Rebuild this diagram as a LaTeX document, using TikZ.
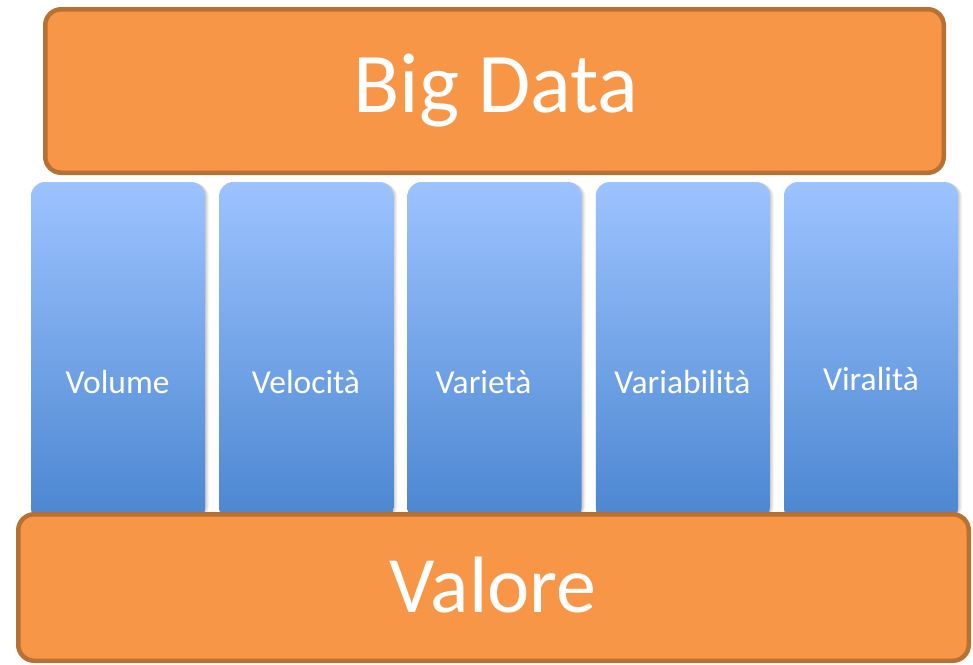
\documentclass[tikz,border=0pt]{standalone}
\usepackage{fontspec}
\setmainfont{Carlito}
\definecolor{bandfill}{RGB}{247,150,70}
\definecolor{bandline}{RGB}{183,113,50}
\definecolor{pilltop}{RGB}{157,195,255}
\definecolor{pillbot}{RGB}{74,134,208}
\tikzset{
  band/.style={fill=bandfill, draw=bandline, line width=4.5pt, rounded corners=16pt,
    inner sep=0pt, outer sep=0pt, anchor=north west},
  pillar/.style={top color=pilltop, bottom color=pillbot, rounded corners=14pt,
    inner sep=0pt, outer sep=0pt, anchor=north west, minimum width=174pt, minimum height=340pt},
  pillshadow/.style={fill=black, opacity=0.045, rounded corners=14pt},
  bandtext/.style={text=white, anchor=base, inner sep=0pt},
  pillartext/.style={text=white, anchor=base, inner sep=0pt, font=\fontsize{33.5}{33.5}\selectfont},
}
\begin{document}
\begin{tikzpicture}[x=1pt, y=-1pt]
  \fill[white] (0,0) rectangle (973,664);
  \useasboundingbox (0,0) rectangle (973,664);

  % the five pillars, with a soft shadow on their sides;
  % each entry: left edge / name / label / label x / label baseline
  \foreach \x/\n/\txt/\tx/\base in {31/1/Volume/117.5/393, 219.25/2/Velocità/306/393,
                                     407.5/3/Varietà/483.5/393, 595.75/4/Variabilità/682.5/393,
                                     784/5/Viralità/871/390} {
    \foreach \s in {0.8,1.6,2.4,3.2,4.0}
      \fill[pillshadow] (\x+\s-1,182+\s*0.3) rectangle (\x+174+\s,520);
    \node[pillar] (p\n) at (\x,182) {};
    \node[pillartext] (t\n) at (\tx,\base) {\txt};
  }

  % top band
  \node[band, minimum width=898.5pt, minimum height=163.5pt] (bigdata) at (45.25,9.25) {};
  \node[bandtext, font=\fontsize{85}{85}\selectfont] (bigdatatext) at (496,112) {Big Data};

  % bottom band, covering the feet of the pillars
  \node[band, minimum width=950.5pt, minimum height=146.5pt] (valore) at (18.25,514.25) {};
  \node[bandtext, font=\fontsize{80}{80}\selectfont] (valoretext) at (493,612) {Valore};
\end{tikzpicture}
\end{document}
